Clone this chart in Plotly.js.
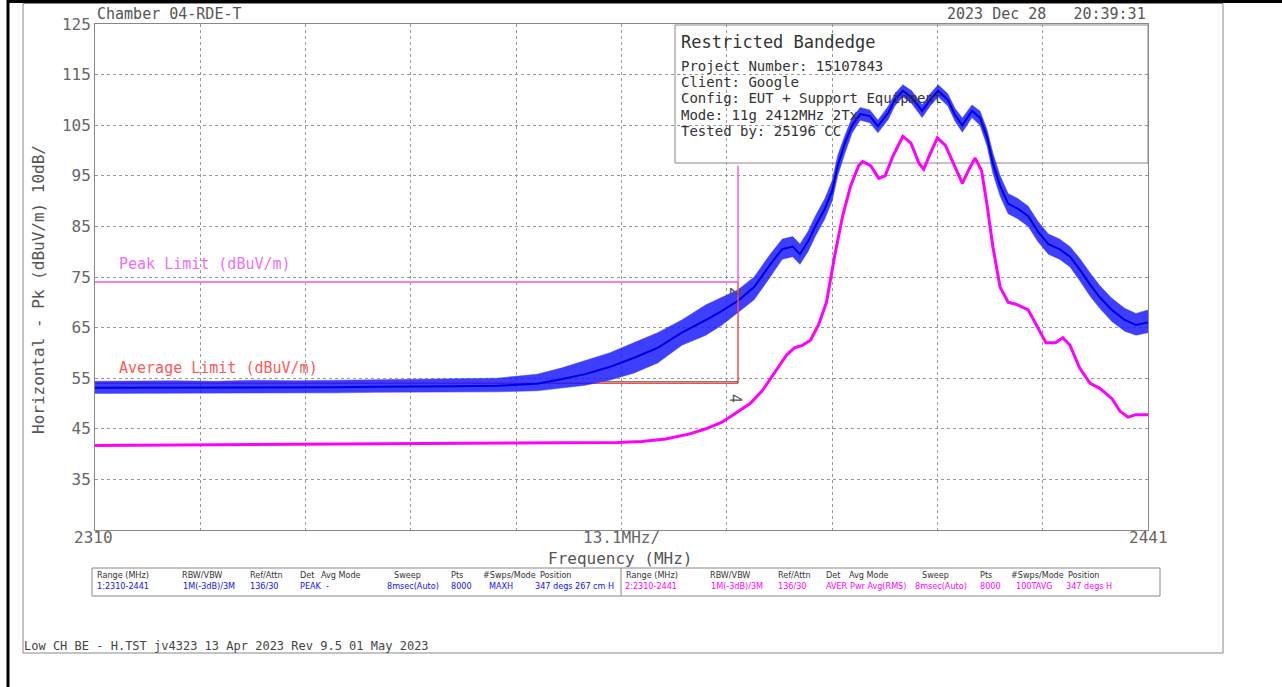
<!DOCTYPE html>
<html>
<head>
<meta charset="utf-8">
<script src="https://cdn.plot.ly/plotly-3.0.1.min.js"></script>
<style>
html,body{margin:0;padding:0;background:#fff;}
#chart{width:1282px;height:687px;}
</style>
</head>
<body>
<div id="chart"></div>
<script>
// ---------- data ----------
const freqPk = [2310,2315,2320,2325,2330,2335,2340,2345,2350,2355,2360,2365,2368,2371,2374,2377,2380,2383,2386,2388,2390,2392,2394,2395.5,2396.8,2397.7,2398.7,2399.6,2400.8,2401.7,2402.4,2403.3,2404.2,2405.2,2406.4,2407.4,2408.7,2409.5,2410.5,2411.6,2412.9,2413.9,2414.9,2416.1,2417,2417.9,2419.1,2420.1,2421,2421.7,2422.6,2423.6,2424.8,2426.1,2427.3,2428.6,2430,2431.3,2432.5,2433.8,2435,2436.5,2438.1,2439.5,2441];
const peakMid = [53.1,53.1,53.2,53.1,53.2,53.2,53.2,53.3,53.3,53.4,53.5,53.9,54.8,55.8,57.2,59.0,61.0,64.0,66.5,68.3,70.3,73.0,77.5,80.5,81.0,79.5,82.0,85.0,88.5,92.0,97.0,101.5,105.0,107.2,106.8,104.8,107.5,110.0,111.8,110.5,107.8,110.0,111.8,110.0,107.0,105.0,107.8,106.5,102.5,97.5,93.0,89.5,88.5,87.0,84.0,81.5,80.5,79.0,76.5,73.5,71.0,68.5,66.5,65.5,66.0];
const peakLow = [52.0,52.0,52.1,52.0,52.1,52.1,52.1,52.2,52.2,52.3,52.3,52.5,53.0,53.6,54.6,56.0,58.0,61.5,63.5,65.5,68.0,70.5,75.0,78.5,79.0,77.5,80.0,83.0,86.5,90.0,95.0,99.5,103.5,106.0,105.5,103.5,106.2,108.8,110.6,109.3,106.5,108.8,110.6,108.8,105.8,103.6,106.5,105.0,100.8,95.5,91.0,87.5,86.5,85.0,82.0,79.5,78.5,77.0,74.3,71.2,68.8,66.2,64.3,63.5,64.0];
const peakHigh = [54.4,54.5,54.5,54.4,54.6,54.5,54.6,54.6,54.7,54.8,55.0,55.8,57.0,58.5,60.0,62.0,64.0,66.5,69.5,71.0,72.5,75.0,79.5,82.5,83.0,81.5,84.0,87.0,90.5,94.0,99.0,103.0,106.5,108.5,108.0,106.0,108.8,111.2,113.0,111.8,109.0,111.2,113.0,111.2,108.3,106.4,109.0,107.8,104.0,99.5,95.0,91.5,90.5,89.0,86.0,83.5,82.5,81.0,78.7,75.8,73.3,70.8,68.8,67.8,68.5];

const freqAv = [2310,2320,2330,2340,2350,2360,2370,2375,2378,2381,2384,2386,2388,2390,2391.5,2393,2394.5,2396,2397,2398,2399,2400,2401,2402,2403,2404,2405,2405.5,2406.5,2407.5,2408.3,2409.3,2410.5,2411.5,2412.5,2413.1,2413.8,2414.8,2415.8,2417,2417.9,2418.8,2419.5,2420.3,2421,2421.7,2422.6,2423.6,2424.8,2426.1,2427.3,2428.3,2429.5,2430.4,2431.3,2432.5,2433.8,2435,2436.5,2437.5,2438.5,2439.5,2441];
const avgVal = [41.7,41.8,41.8,41.9,42.0,42.2,42.3,42.3,42.5,43.0,44.0,45.0,46.3,48.5,50.0,52.5,56.0,59.5,61.0,61.5,62.5,65.5,70.0,79.0,87.0,93.0,97.0,97.8,97.0,94.5,95.0,99.0,102.8,101.5,97.5,96.3,99.0,102.5,101.0,96.5,93.5,96.5,98.5,96.0,89.0,81.0,73.0,70.0,69.5,68.5,65.0,62.0,62.0,63.0,61.5,57.0,54.0,53.0,51.0,48.5,47.3,47.8,47.8];

const limitFreq = [2310, 2390];
const peakLimit = [74, 74];
const avgLimit = [54, 54];
const markerFreq = [2390, 2390];
const markerPeakSpan = [97, 74];
const markerAvgSpan = [74, 54];
const deltaFreq = [2373, 2390];
const deltaLevel = [54.3, 54.3];

const yTicks = [35,45,55,65,75,85,95,105,115,125];
const xTickVals = [2310,2323.1,2336.2,2349.3,2362.4,2375.5,2388.6,2401.7,2414.8,2427.9,2441];

const headerLeft = "Chamber 04-RDE-T";
const headerRight = "2023 Dec 28\u00a0\u00a0\u00a020:39:31";
const infoTitle = "Restricted Bandedge";
const infoLines = ["Project Number: 15107843","Client: Google","Config: EUT + Support Equipment","Mode: 11g 2412MHz 2Tx","Tested by: 25196 CC"];
const tableHeads = ["Range (MHz)","RBW/VBW","Ref/Attn","Det","Avg Mode","Sweep","Pts","#Swps/Mode","Position"];
const tableRow1 = ["1:2310-2441","1M(-3dB)/3M","136/30","PEAK","-","8msec(Auto)","8000","MAXH","347 degs 267 cm H"];
const tableRow2 = ["2:2310-2441","1M(-3dB)/3M","136/30","AVER","Pwr Avg(RMS)","8msec(Auto)","8000","100TAVG","347 degs H"];
const footer = "Low CH BE - H.TST jv4323 13 Apr 2023 Rev 9.5 01 May 2023";

// ---------- geometry helpers (pixel -> paper) ----------
const L = 95, T = 24, PW = 1053, PH = 506;
const PX = x => (x - L) / PW;
const PY = y => 1 - (y - T) / PH;
const MONO = "DejaVu Sans Mono, monospace";
const NARROW = "Liberation Sans Narrow, DejaVu Sans Condensed, Liberation Sans, sans-serif";

function ann(text, x, y, o) {
  o = o || {};
  return {
    text: text, xref: 'paper', yref: 'paper', x: PX(x), y: PY(y),
    xanchor: o.xa || 'left', yanchor: 'middle', showarrow: false,
    textangle: o.angle || 0,
    font: {family: o.family || MONO, size: o.size || 15, color: o.color || '#555'}
  };
}

const annotations = [];
annotations.push(ann(headerLeft, 95, 14, {size: 15}));
annotations.push(ann(headerRight, 1148, 14, {size: 15, xa: 'right'}));
annotations.push(ann(infoTitle, 679, 42, {size: 17, color: '#333'}));
infoLines.forEach((t, i) => annotations.push(ann(t, 679, 66 + i * 16.2, {size: 14, color: '#333'})));
annotations.push(ann("Peak Limit (dBuV/m)", 117, 264, {size: 15, color: '#f070f0'}));
annotations.push(ann("Average Limit (dBuV/m)", 117, 368, {size: 15, color: '#ff5a5a'}));
annotations.push(ann("2", 735, 291, {size: 15, color: '#555', xa: 'center', angle: 90}));
annotations.push(ann("4", 735, 398, {size: 15, color: '#555', xa: 'center', angle: 90}));
annotations.push(ann("2310", 93, 537, {size: 16, color: '#666', xa: 'center'}));
annotations.push(ann("13.1MHz/", 621, 537, {size: 16, color: '#666', xa: 'center'}));
annotations.push(ann("2441", 1148, 537, {size: 16, color: '#666', xa: 'center'}));
annotations.push(ann("Frequency (MHz)", 620, 558, {size: 16, color: '#555', xa: 'center'}));
annotations.push(ann("Horizontal - Pk (dBuV/m) 10dB/", 38, 290, {size: 16, color: '#555', xa: 'center', angle: -90}));
annotations.push(ann(footer, 22, 646, {size: 12, color: '#444'}));

const colL = [95,180,248,298,319,392,449,481,538];
const valL = [95,181,248,298,324,385,449,487,533];
const colR = [624,708,776,824,847,920,978,1009,1066];
const valR = [623,709,776,824,848,913,978,1014,1064];
tableHeads.forEach((t, i) => {
  annotations.push(ann(t, colL[i], 575, {size: 9, family: NARROW, color: '#333'}));
  annotations.push(ann(t, colR[i], 575, {size: 9, family: NARROW, color: '#333'}));
});
tableRow1.forEach((t, i) => annotations.push(ann(t, valL[i], 586, {size: 9, family: NARROW, color: '#1010ff'})));
tableRow2.forEach((t, i) => annotations.push(ann(t, valR[i], 586, {size: 9, family: NARROW, color: '#ff00ff'})));

function rect(x0, y0, x1, y1, o) {
  o = o || {};
  return {type: 'rect', xref: 'paper', yref: 'paper', x0: PX(x0), y0: PY(y0), x1: PX(x1), y1: PY(y1),
    line: {color: o.color || '#888', width: o.width || 1}, fillcolor: o.fill || 'rgba(0,0,0,0)', layer: o.layer || 'above'};
}
function seg(x0, y0, x1, y1, o) {
  o = o || {};
  return {type: 'line', xref: 'paper', yref: 'paper', x0: PX(x0), y0: PY(y0), x1: PX(x1), y1: PY(y1),
    line: {color: o.color || '#888', width: o.width || 1}, layer: o.layer || 'above'};
}
const shapes = [
  rect(675, 25, 1148, 163, {fill: '#ffffff', layer: 'between', color: '#888'}),
  rect(92, 568, 1160, 596, {color: '#888'}),
  seg(621, 568, 621, 596, {color: '#888'}),
  rect(23, 3.5, 1223, 653, {color: '#888'}),
  seg(8, 0, 8, 687, {color: '#000', width: 3}),
  seg(8, 1.5, 1282, 1.5, {color: '#000', width: 3})
];

// ---------- traces ----------
const traces = [
  {x: limitFreq, y: avgLimit, mode: 'lines', line: {color: '#ff4a4a', width: 1.5}, hoverinfo: 'skip'},
  {x: limitFreq, y: peakLimit, mode: 'lines', line: {color: '#f080f0', width: 2}, hoverinfo: 'skip'},
  {x: freqPk, y: peakLow, mode: 'lines', line: {color: 'rgba(60,60,255,0.6)', width: 0.8}, hoverinfo: 'skip'},
  {x: freqPk, y: peakHigh, mode: 'lines', fill: 'tonexty', fillcolor: 'rgba(20,20,255,0.82)', line: {color: 'rgba(60,60,255,0.6)', width: 0.8}, hoverinfo: 'skip'},
  {x: freqPk, y: peakMid, mode: 'lines', line: {color: '#0000e0', width: 2}, name: 'Peak'},
  {x: freqAv, y: avgVal, mode: 'lines', line: {color: '#ff00ff', width: 3}, name: 'Average'},
  {x: markerFreq, y: markerPeakSpan, mode: 'lines', line: {color: '#f060f0', width: 1.5}, hoverinfo: 'skip'},
  {x: markerFreq, y: markerAvgSpan, mode: 'lines', line: {color: '#ff4a4a', width: 1.5}, hoverinfo: 'skip'},
  {x: deltaFreq, y: deltaLevel, mode: 'lines', line: {color: '#555', width: 1}, hoverinfo: 'skip'}
];

const layout = {
  width: 1282, height: 687,
  margin: {l: L, r: 1282 - L - PW, t: T, b: 687 - T - PH, pad: 0},
  paper_bgcolor: '#fff', plot_bgcolor: '#fff',
  showlegend: false,
  xaxis: {range: [2310, 2441], tickvals: xTickVals, showticklabels: false, ticks: '',
    showgrid: true, gridcolor: '#999', griddash: 'dot', gridwidth: 1,
    showline: true, mirror: true, linecolor: '#888', linewidth: 1, zeroline: false, fixedrange: true},
  yaxis: {range: [25, 125], tickvals: yTicks, ticks: '',
    tickfont: {family: MONO, size: 16, color: '#666'},
    showgrid: true, gridcolor: '#999', griddash: 'dot', gridwidth: 1,
    showline: true, mirror: true, linecolor: '#888', linewidth: 1, zeroline: false, fixedrange: true},
  annotations: annotations,
  shapes: shapes
};

Plotly.newPlot('chart', traces, layout, {staticPlot: true, displayModeBar: false});
</script>
</body>
</html>
